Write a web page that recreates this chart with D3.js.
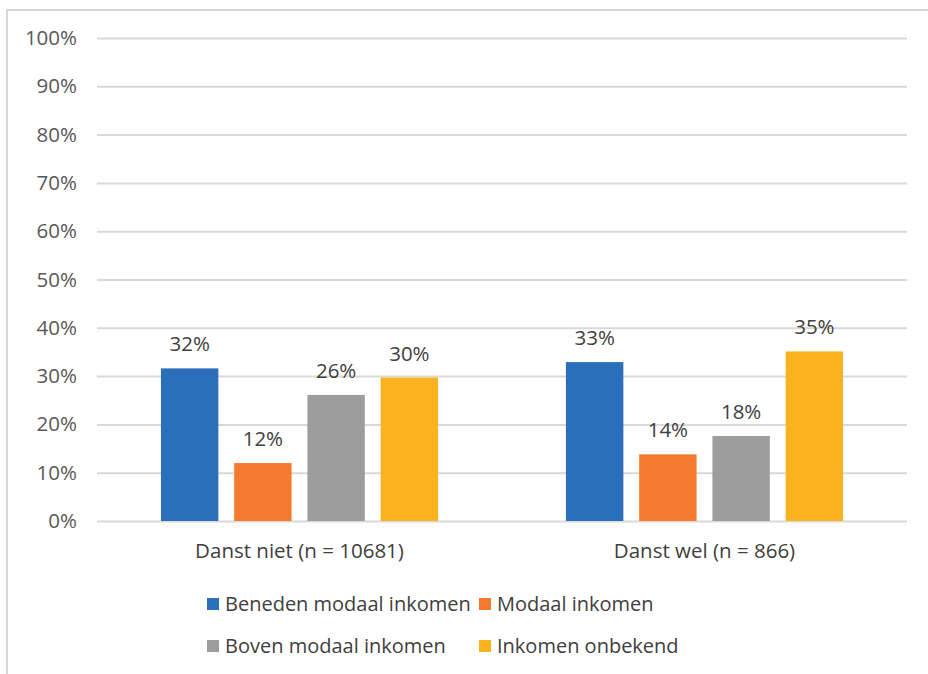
<!DOCTYPE html>
<html><head><meta charset="utf-8">
<script src="https://cdn.jsdelivr.net/npm/d3@7"></script>
<style>body{margin:0;background:#fff}svg{display:block}</style>
</head><body>
<script>
const categories = ["Danst niet (n = 10681)", "Danst wel (n = 866)"];
const seriesNames = ["Beneden modaal inkomen", "Modaal inkomen", "Boven modaal inkomen", "Inkomen onbekend"];
const seriesColors = ["#2B6EB9", "#F27B2E", "#9D9D9D", "#FAB31E"];
const beneden = [31.6, 32.9];
const modaal = [12.0, 13.8];
const boven = [26.1, 17.6];
const onbekend = [29.7, 35.1];
const labelsBeneden = ["32%", "33%"];
const labelsModaal = ["12%", "14%"];
const labelsBoven = ["26%", "18%"];
const labelsOnbekend = ["30%", "35%"];
const yTicks = [0,10,20,30,40,50,60,70,80,90,100];

const values = [beneden, modaal, boven, onbekend];
const labels = [labelsBeneden, labelsModaal, labelsBoven, labelsOnbekend];

const W = 928, H = 674;
const font = "'Open Sans', 'Noto Sans', sans-serif";
const fs = 20.5;
const svg = d3.select("body").append("svg").attr("width", W).attr("height", H);

// border
svg.append("rect").attr("x", 7).attr("y", 10).attr("width", W + 10).attr("height", H)
  .attr("fill", "#fff").attr("stroke", "#d6d6d6").attr("stroke-width", 2);

const pLeft = 97, pRight = 907, pTop = 38, pBottom = 521;
const y = d3.scaleLinear().domain([0, 100]).range([pBottom, pTop]);
const x0 = d3.scaleBand().domain(categories).range([pLeft, pRight]).paddingInner(0).paddingOuter(0);
const x1 = d3.scaleBand().domain(seriesNames).range([0, x0.bandwidth()]).paddingInner(0.216).paddingOuter(0.873);

// grid
const yAxis = d3.axisLeft(y).tickValues(yTicks).tickFormat(d => d + "%").tickSize(-(pRight - pLeft)).tickPadding(20);
const gy = svg.append("g").attr("transform", `translate(${pLeft},0)`).call(yAxis);
gy.select(".domain").remove();
gy.selectAll(".tick line").attr("stroke", "#d9d9d9").attr("stroke-width", 2);
gy.selectAll(".tick text").attr("fill", "#595959").attr("font-size", fs).attr("font-family", font);

// bars
const groups = svg.append("g").selectAll("g").data(categories).join("g")
  .attr("transform", c => `translate(${x0(c)},0)`);
seriesNames.forEach((s, si) => {
  groups.append("rect")
    .attr("x", x1(s)).attr("width", x1.bandwidth())
    .attr("y", (c, ci) => y(values[si][ci]))
    .attr("height", (c, ci) => pBottom - y(values[si][ci]))
    .attr("fill", seriesColors[si]);
  groups.append("text")
    .attr("x", x1(s) + x1.bandwidth() / 2)
    .attr("y", (c, ci) => y(values[si][ci]) - 17)
    .attr("text-anchor", "middle")
    .attr("font-size", fs).attr("font-family", font).attr("fill", "#404040")
    .text((c, ci) => labels[si][ci]);
});

// category axis labels
const gx = svg.append("g").attr("transform", `translate(0,${pBottom})`)
  .call(d3.axisBottom(x0).tickSize(0).tickPadding(22));
gx.select(".domain").remove();
gx.selectAll(".tick text").attr("fill", "#404040").attr("font-size", fs).attr("font-family", font);

// legend
const legendPos = [[207, 604], [479, 604], [207, 646], [479, 646]];
seriesNames.forEach((s, i) => {
  const [lx, ly] = legendPos[i];
  svg.append("rect").attr("x", lx).attr("y", ly - 6).attr("width", 12).attr("height", 12).attr("fill", seriesColors[i]);
  svg.append("text").attr("x", lx + 18).attr("y", ly).attr("dy", "0.35em")
    .attr("font-size", 20).attr("font-family", font).attr("fill", "#404040").text(s);
});
</script>
</body></html>
